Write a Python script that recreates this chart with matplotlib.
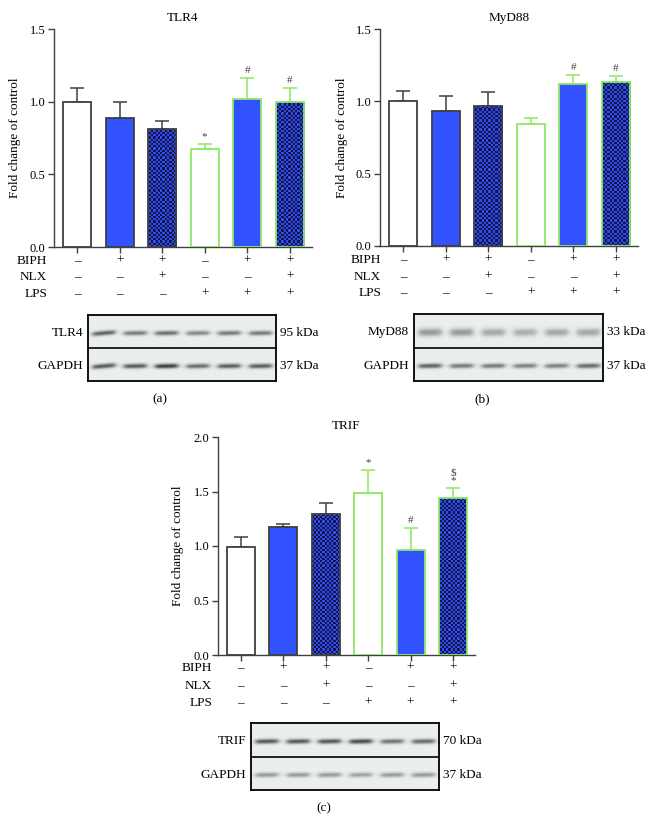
import numpy as np
import matplotlib
matplotlib.use("Agg")
import matplotlib.pyplot as plt
from matplotlib.colors import ListedColormap

W, H = 653, 834
plt.rcParams['font.family'] = ['Liberation Serif', 'DejaVu Serif']
plt.rcParams['font.size'] = 9

# ---------------- data ----------------
conditions = ["BIPH", "NLX", "LPS"]
biph = ["–", "+", "+", "–", "+", "+"]
nlx = ["–", "–", "+", "–", "–", "+"]
lps = ["–", "–", "–", "+", "+", "+"]

tlr4_mean = [1.00, 0.885, 0.815, 0.675, 1.015, 0.995]
tlr4_err = [0.093, 0.11, 0.055, 0.035, 0.147, 0.098]
tlr4_sig = ["", "", "", "*", "#", "#"]

myd88_mean = [1.00, 0.935, 0.965, 0.842, 1.117, 1.133]
myd88_err = [0.072, 0.105, 0.099, 0.040, 0.065, 0.042]
myd88_sig = ["", "", "", "", "#", "#"]

trif_mean = [0.995, 1.17, 1.29, 1.49, 0.965, 1.436]
trif_err = [0.089, 0.03, 0.105, 0.207, 0.199, 0.095]
trif_sig = ["", "", "", "*", "#", "\\$\n*"]

# blot band intensities per lane
tlr4_band = [0.75, 0.62, 0.68, 0.55, 0.62, 0.62]
tlr4_gapdh = [0.80, 0.80, 0.95, 0.70, 0.78, 0.78]
myd88_band = [0.45, 0.45, 0.38, 0.34, 0.38, 0.38]
myd88_gapdh = [0.75, 0.62, 0.62, 0.58, 0.58, 0.70]
trif_band = [0.80, 0.80, 0.82, 0.88, 0.65, 0.70]
trif_gapdh = [0.45, 0.45, 0.45, 0.40, 0.45, 0.45]

# ---------------- styles ----------------
BLUE = "#3352FF"
NAVY = "#141446"
CHECK_LIGHT = "#2E4CEE"
GREEN = "#8CE864"
DARK = "#404040"
fills = ["white", "blue", "check", "white", "blue", "check"]
edges = [DARK, DARK, DARK, GREEN, GREEN, GREEN]

fig = plt.figure(figsize=(W / 100, H / 100), dpi=100)


def px(l, t, r, b):
    return [l / W, 1 - b / H, (r - l) / W, (b - t) / H]


def bar_panel(rect, title, means, errs, sigs, ymax, yticks, ylab_x):
    ax = fig.add_axes(px(*rect))
    x = np.arange(len(means))
    ax.set_xlim(-0.54, 5.52)
    ax.set_ylim(0, ymax)
    # checker texture
    nx = int((rect[2] - rect[0]) / 2.2)
    ny = int((rect[3] - rect[1]) / 2.2)
    tex = (np.add.outer(np.arange(ny), np.arange(nx)) % 2).astype(float)
    cmap = ListedColormap([NAVY, CHECK_LIGHT])
    for i in range(len(means)):
        f = fills[i]
        fc = {"white": "white", "blue": BLUE, "check": NAVY}[f]
        bars = ax.bar(x[i], means[i], width=0.66, color=fc, edgecolor='none',
                      linewidth=0, zorder=2)
        if f == "check":
            im = ax.imshow(tex, extent=[-0.54, 5.52, 0, ymax], aspect='auto',
                           cmap=cmap, interpolation='nearest', zorder=2.5,
                           origin='lower')
            im.set_clip_path(bars[0])
        ax.bar(x[i], means[i], width=0.66, fill=False, edgecolor=edges[i],
               linewidth=1.3, zorder=3)
        ax.errorbar(x[i], means[i], yerr=[[0], [errs[i]]], fmt='none',
                    ecolor=edges[i], elinewidth=1.1, capsize=5.0, capthick=1.1,
                    zorder=1)
        if sigs[i]:
            ax.annotate(sigs[i], (x[i], means[i] + errs[i]), xytext=(0, 2),
                        textcoords='offset points', ha='center', va='bottom',
                        fontsize=8, color=DARK, linespacing=0.9)
    for s in ["top", "right"]:
        ax.spines[s].set_visible(False)
    for s in ["left", "bottom"]:
        ax.spines[s].set_color(DARK)
        ax.spines[s].set_linewidth(1.0)
    ax.set_yticks(yticks)
    ax.set_yticklabels([f"{v:.1f}" for v in yticks])
    ax.set_xticks(x)
    ax.set_xticklabels([])
    ax.tick_params(axis='both', colors=DARK, length=4, width=1.0,
                   labelsize=9, labelcolor='black', pad=2)
    ax.set_title(title, fontsize=9.5, pad=6)
    fig.text(ylab_x / W, 1 - ((rect[1] + rect[3]) / 2) / H,
             "Fold change of control", rotation=90, ha='center', va='center',
             fontsize=9.5)
    return ax


def cond_rows(ax, label_right, ys):
    rows = [biph, nlx, lps]
    for name, row, yy in zip(conditions, rows, ys):
        fig.text(label_right / W, 1 - yy / H, name, ha='right', va='center',
                 fontsize=9.5)
        for i, s in enumerate(row):
            xd = ax.transData.transform((i, 0))[0]
            fig.text(xd / W, 1 - yy / H, s, ha='center', va='center',
                     fontsize=9.5)


def blot(rect, top_int, bot_int, top_label, bot_label, kda_top, kda_bot,
         fuzzy=False, tilt_first=True):
    l, t, r, b = rect
    ax = fig.add_axes(px(l, t, r, b))
    hh, ww = 120, 360
    yy, xx = np.mgrid[0:hh, 0:ww]
    img = np.zeros((hh, ww))
    n = len(top_int)
    lane_w = ww / n
    for half, ints in enumerate([top_int, bot_int]):
        y0 = hh * (0.27 + 0.5 * half)
        for i, a in enumerate(ints):
            xc = (i + 0.5) * lane_w
            slope = -0.08 if (i == 0 and tilt_first) else -0.02
            yc = y0 + slope * (xx - xc)
            sy = 7.0 if (fuzzy and half == 0) else 4.2
            prof_x = 1 / (1 + np.exp(-(xx - (xc - 0.36 * lane_w)) / 3)) * \
                (1 - 1 / (1 + np.exp(-(xx - (xc + 0.36 * lane_w)) / 3)))
            img += a * np.exp(-((yy - yc) / sy) ** 2) * prof_x
    img = np.clip(img, 0, 1)
    bg = np.array([0.92, 0.94, 0.93])
    dark = np.array([0.15, 0.2, 0.2])
    rgb = bg[None, None, :] * (1 - img[..., None]) + dark[None, None, :] * img[..., None]
    ax.imshow(rgb, aspect='auto', interpolation='bilinear')
    ax.axhline(hh / 2 - 0.5, color='black', lw=1.2)
    ax.set_xticks([])
    ax.set_yticks([])
    for s in ax.spines.values():
        s.set_linewidth(1.3)
        s.set_color('black')
    ymid_top = t + (b - t) * 0.27
    ymid_bot = t + (b - t) * 0.78
    fig.text((l - 5) / W, 1 - ymid_top / H, top_label, ha='right', va='center', fontsize=9.5)
    fig.text((l - 5) / W, 1 - ymid_bot / H, bot_label, ha='right', va='center', fontsize=9.5)
    fig.text((r + 4) / W, 1 - ymid_top / H, kda_top, ha='left', va='center', fontsize=9.5)
    fig.text((r + 4) / W, 1 - ymid_bot / H, kda_bot, ha='left', va='center', fontsize=9.5)


# Panel a
axa = bar_panel((54, 29, 312, 247), "TLR4", tlr4_mean, tlr4_err, tlr4_sig,
                1.5, [0.0, 0.5, 1.0, 1.5], 15)
cond_rows(axa, 47, [261, 277, 294])
blot((88, 315, 276, 381), tlr4_band, tlr4_gapdh, "TLR4", "GAPDH", "95 kDa", "37 kDa")
fig.text(160 / W, 1 - 399 / H, "(a)", ha='center', va='center', fontsize=9.5)

# Panel b
axb = bar_panel((380, 29, 638, 246), "MyD88", myd88_mean, myd88_err, myd88_sig,
                1.5, [0.0, 0.5, 1.0, 1.5], 342)
cond_rows(axb, 381, [260, 277, 293])
blot((414, 314, 603, 381), myd88_band, myd88_gapdh, "MyD88", "GAPDH", "33 kDa", "37 kDa",
     fuzzy=True, tilt_first=False)
fig.text(482 / W, 1 - 399 / H, "(b)", ha='center', va='center', fontsize=9.5)

# Panel c
axc = bar_panel((218, 437, 475, 655), "TRIF", trif_mean, trif_err, trif_sig,
                2.0, [0.0, 0.5, 1.0, 1.5, 2.0], 178)
cond_rows(axc, 212, [668, 686, 703])
blot((251, 723, 439, 790), trif_band, trif_gapdh, "TRIF", "GAPDH", "70 kDa", "37 kDa",
     tilt_first=False)
fig.text(324 / W, 1 - 808 / H, "(c)", ha='center', va='center', fontsize=9.5)

fig.savefig("out.png", dpi=100)
